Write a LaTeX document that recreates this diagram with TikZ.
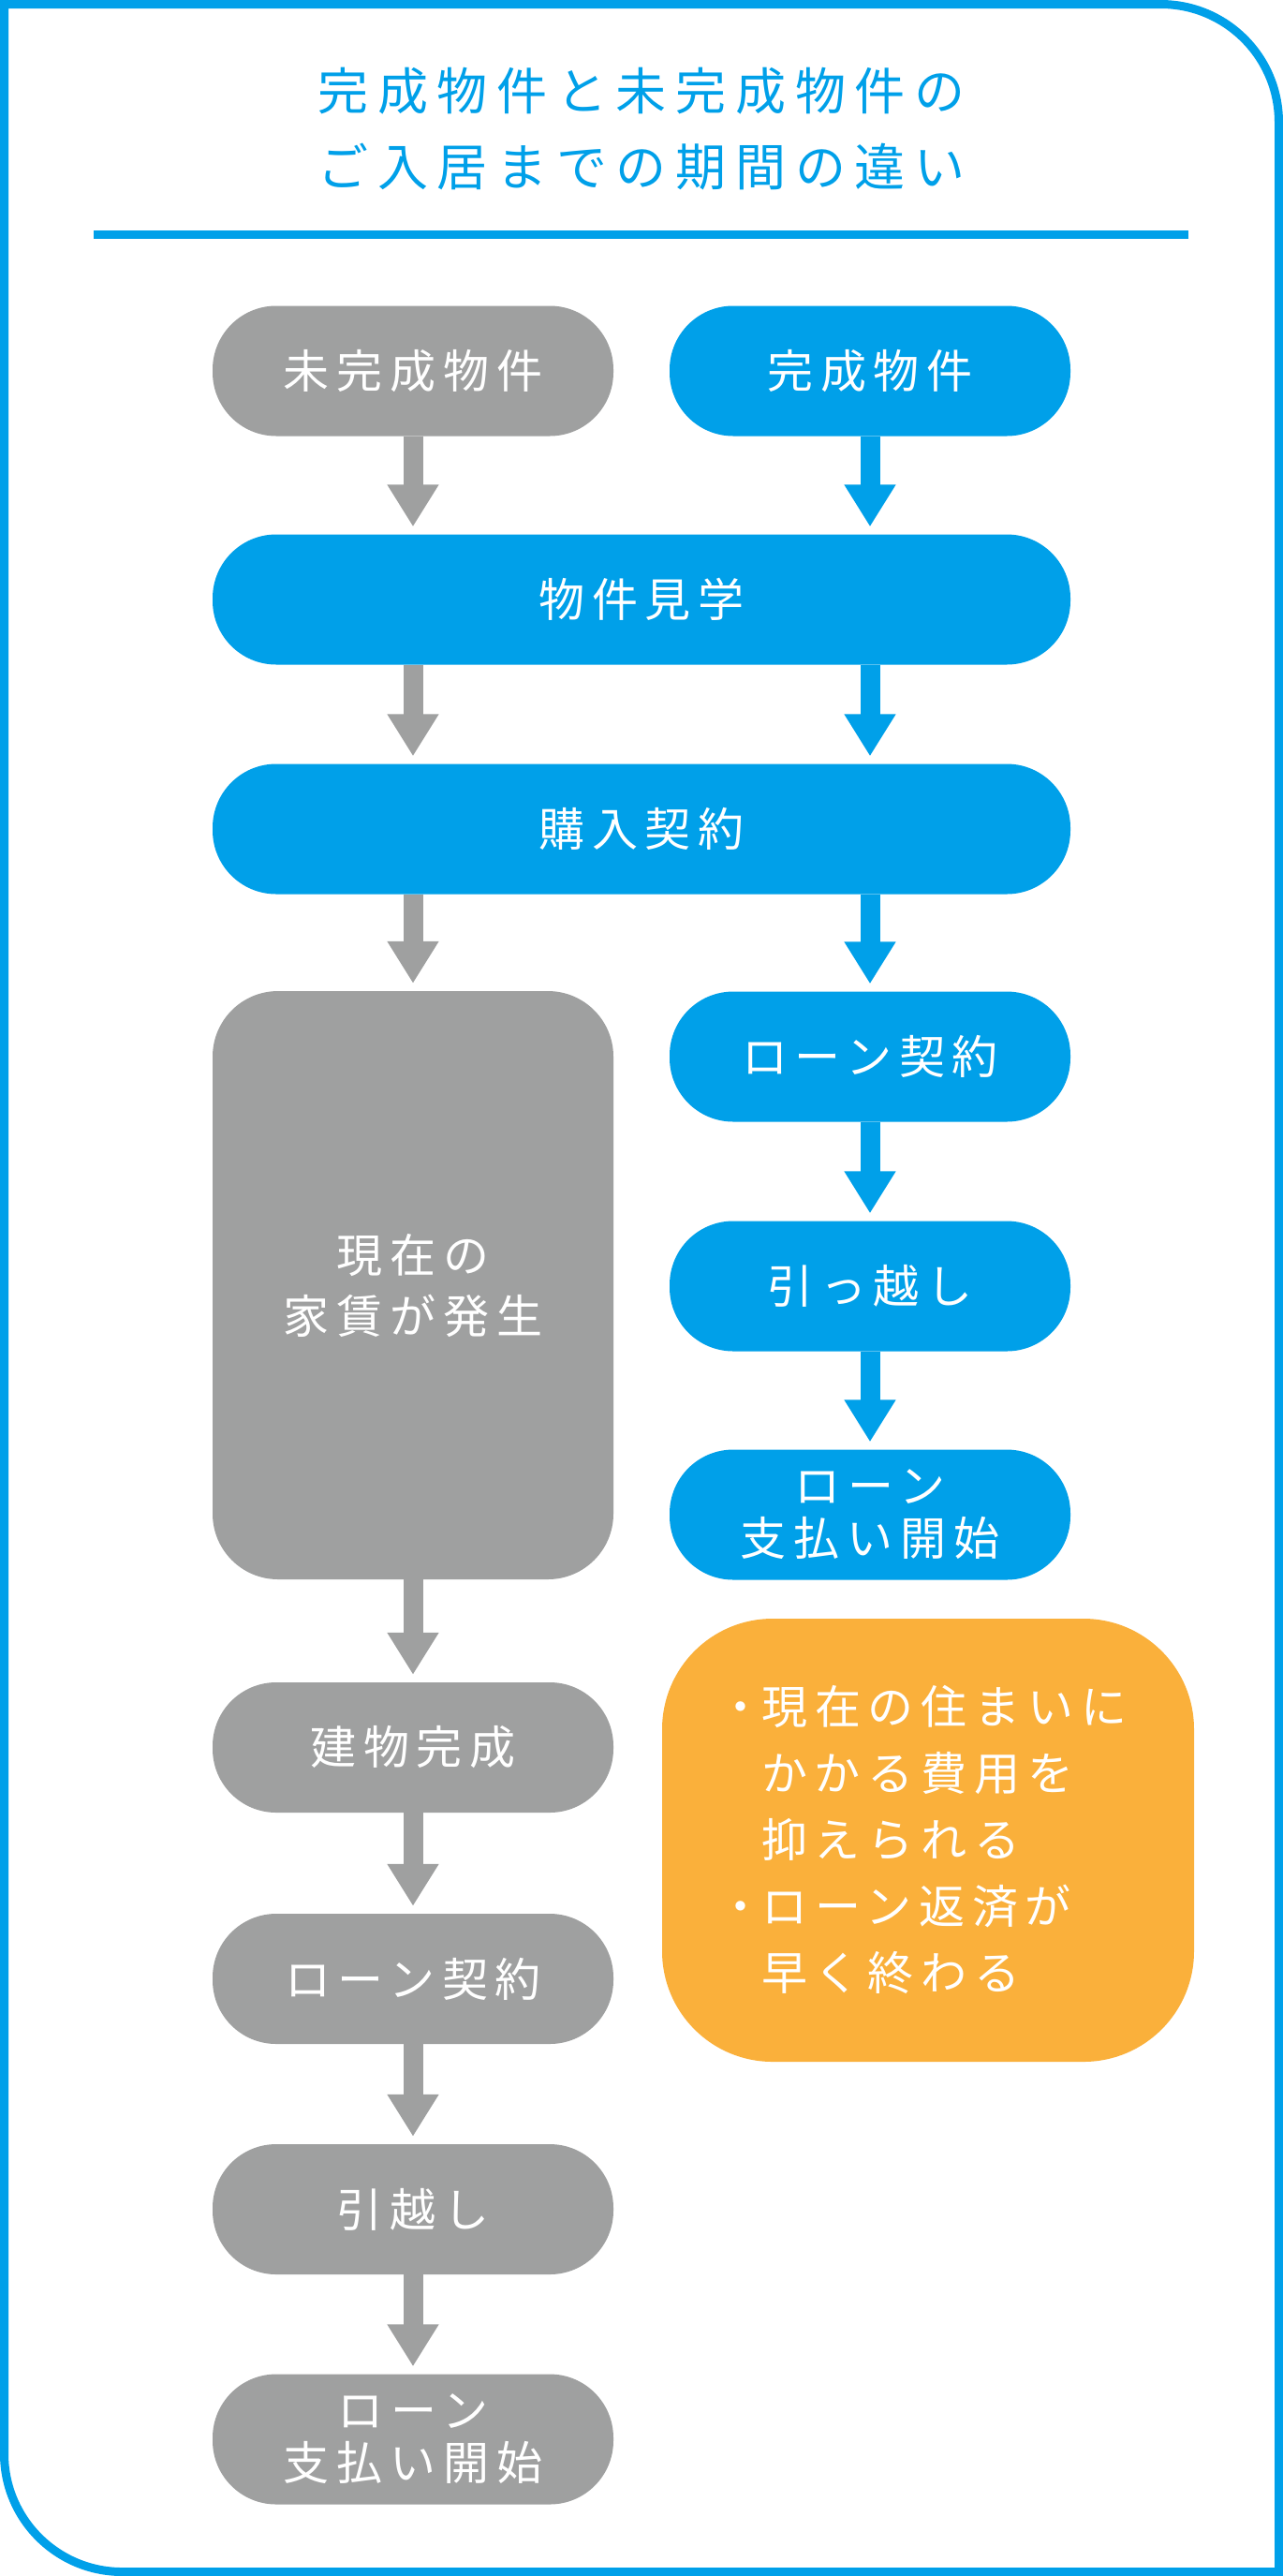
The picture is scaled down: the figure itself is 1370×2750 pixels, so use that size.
\documentclass[tikz,border=0pt]{standalone}
\usepackage{fontspec}
\usetikzlibrary{arrows.meta}
\newfontfamily\jpfont[LetterSpace=16]{Noto Sans CJK JP}
\newfontfamily\jptitle[LetterSpace=18]{Noto Sans CJK JP}
\definecolor{kblue}{RGB}{0,160,233}
\definecolor{kgray}{RGB}{159,160,160}
\definecolor{korange}{RGB}{250,176,59}
\begin{document}
\begin{tikzpicture}[x=1pt,y=-1pt,
  box/.style={rounded corners=68pt, minimum width=428pt, minimum height=139pt,
    inner sep=0pt, text=white, align=center,
    font=\jpfont\fontsize{49}{56}\selectfont},
  graybox/.style={box, fill=kgray},
  bluebox/.style={box, fill=kblue},
  widebox/.style={bluebox, minimum width=916pt},
  garrow/.style={draw=kgray, line width=21pt,
    -{Triangle[length=45pt,width=52pt]}, shorten >=8pt},
  barrow/.style={garrow, draw=kblue},
  titletext/.style={text=kblue, align=center, inner sep=0pt,
    font=\jptitle\fontsize{54}{81}\selectfont},
  merittext/.style={text=white, align=left, inner sep=0pt, anchor=west,
    font=\jpfont\fontsize{49}{71}\selectfont}
]
\fill[white] (0,0) rectangle (1370,2750);
\useasboundingbox (0,0) rectangle (1370,2750);
% frame
\draw[draw=kblue, line width=9pt]
  (4.5,4.5) -- (1239.5,4.5) arc[start angle=-90, end angle=0, radius=126]
  -- (1365.5,2745.5) -- (130.5,2745.5) arc[start angle=90, end angle=180, radius=126]
  -- cycle;
% title
\node[titletext] (title) at (685,137.5) {完成物件と未完成物件の\\ご入居までの期間の違い};
\draw[kblue, line width=9pt] (100,250) -- (1269,250);

% nodes
\node[graybox] (misei) at (441,396) {未完成物件};
\node[bluebox] (kansei) at (929,396) {完成物件};
\node[widebox] (kengaku) at (685,640) {物件見学};
\node[widebox] (konyu) at (685,885) {購入契約};
\node[graybox, minimum height=628pt, rounded corners=70pt, font=\jpfont\fontsize{49}{65}\selectfont] (yachin) at (441,1372) {現在の\\家賃が発生};
\node[bluebox] (loanB) at (929,1128) {ローン契約};
\node[bluebox] (hikkoshiB) at (929,1373) {引っ越し};
\node[bluebox] (shiharaiB) at (929,1617) {ローン\\支払い開始};
\node[fill=korange, rounded corners=118pt, minimum width=568pt, minimum height=473pt] (merit) at (991,1964.5) {};
\node[merittext] (meritText) at (813,1964) {\llap{\makebox[44pt][c]{・}}現在の住まいに\\かかる費用を\\抑えられる\\\llap{\makebox[44pt][c]{・}}ローン返済が\\早く終わる};
\node[graybox] (tatemono) at (441,1865.5) {建物完成};
\node[graybox] (loanG) at (441,2112.5) {ローン契約};
\node[graybox] (hikkoshiG) at (441,2358.5) {引越し};
\node[graybox] (shiharaiG) at (441,2604) {ローン\\支払い開始};

% arrows
\draw[garrow] (misei.south) -- (kengaku.north -| misei);
\draw[barrow] (kansei.south) -- (kengaku.north -| kansei);
\draw[garrow] (kengaku.south -| misei) -- (konyu.north -| misei);
\draw[barrow] (kengaku.south -| kansei) -- (konyu.north -| kansei);
\draw[garrow] (konyu.south -| misei) -- (yachin.north);
\draw[barrow] (konyu.south -| kansei) -- (loanB.north);
\draw[barrow] (loanB.south) -- (hikkoshiB.north);
\draw[barrow] (hikkoshiB.south) -- (shiharaiB.north);
\draw[garrow] (yachin.south) -- (tatemono.north);
\draw[garrow] (tatemono.south) -- (loanG.north);
\draw[garrow] (loanG.south) -- (hikkoshiG.north);
\draw[garrow] (hikkoshiG.south) -- (shiharaiG.north);
\end{tikzpicture}
\end{document}
